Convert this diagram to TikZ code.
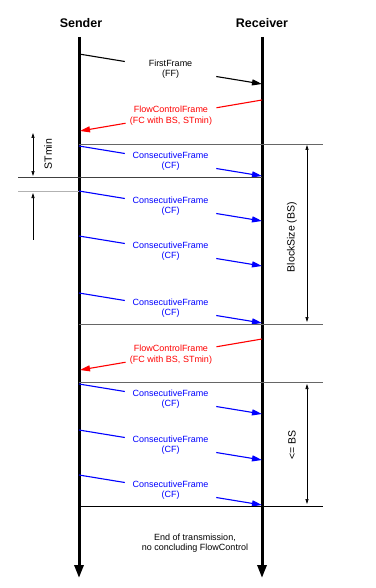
\documentclass[tikz,border=0pt]{standalone}
\usepackage{fontspec}
\setmainfont{Liberation Sans}
\usetikzlibrary{arrows.meta,calc}

\tikzset{
	lifeline/.style={line width=3pt, -{Triangle[length=13pt,width=9pt]}},
	msg/.style={line width=1.1pt},
	msgtip/.style={msg, -{Triangle[length=10pt,width=6pt]}},
	frame/.style={font=\fontsize{9}{10.5}\selectfont, align=center, inner sep=1pt},
	party/.style={font=\bfseries\fontsize{12.5}{14}\selectfont},
	sep/.style={line width=0.7pt, black!60},
	dim/.style={line width=0.6pt, {Triangle[length=5pt,width=3pt]}-{Triangle[length=5pt,width=3pt]}},
	dimlabel/.style={font=\fontsize{10.5}{12}\selectfont, rotate=90},
}

\begin{document}
\begin{tikzpicture}[x=1pt, y=-1pt]
	\useasboundingbox (0,0) rectangle (375,588);

	% sender and receiver
	\node[party] (sender) at (81,23) {Sender};
	\node[party] (receiver) at (262,23) {Receiver};
	\coordinate (s-top) at (79,37);
	\coordinate (s-bot) at (79,578);
	\coordinate (r-top) at (262,37);
	\coordinate (r-bot) at (262,578);
	\draw[lifeline] (s-top) -- (s-bot);
	\draw[lifeline] (r-top) -- (r-bot);

	% first frame
	\coordinate (ff-s) at (79,54);
	\coordinate (ff-r) at (262,84);
	\node[frame] (ff) at ($(ff-s)!0.5!(ff-r)$) {FirstFrame\\(FF)};
	\draw[msg] (ff-s) -- ($(ff-s)!0.25!(ff-r)$);
	\draw[msgtip] ($(ff-s)!0.75!(ff-r)$) -- (ff-r);

	% flow control frames
	\foreach \n/\y in {fca/100, fcb/339} {
		\coordinate (\n-r) at (262,\y);
		\coordinate (\n-s) at (80,\y+31);
		\node[frame, red] (\n) at ($(\n-r)!0.5!(\n-s)$) {FlowControlFrame\\(FC with BS, STmin)};
		\draw[msg, red] (\n-r) -- ($(\n-r)!0.25!(\n-s)$);
		\draw[msgtip, red] ($(\n-r)!0.75!(\n-s)$) -- (\n-s);
	}

	% consecutive frames
	\foreach \n/\y in {cfa/146, cfb/191, cfc/236, cfd/293, cfe/384, cff/430, cfg/475} {
		\coordinate (\n-s) at (79,\y);
		\coordinate (\n-r) at (262,\y+30);
		\node[frame, blue] (\n) at ($(\n-s)!0.5!(\n-r)$) {ConsecutiveFrame\\(CF)};
		\draw[msg, blue] (\n-s) -- ($(\n-s)!0.25!(\n-r)$);
		\draw[msgtip, blue] ($(\n-s)!0.75!(\n-r)$) -- (\n-r);
	}

	% block borders
	\draw[sep] (79,144) -- (323,144);
	\draw[sep, black!75] (18,177) -- (262,177);
	\draw[sep, black!30] (18,191) -- (79,191);
	\draw[sep] (79,324) -- (323,324);
	\draw[sep] (79,382) -- (323,382);
	\draw[sep, black] (79,506) -- (323,506);

	% STmin
	\draw[dim] (33,133) -- (33,176);
	\node[dimlabel] (stmin) at (48,154) {STmin};
	\draw[dim, {Triangle[length=5pt,width=3pt]}-] (33,193) -- (33,240);

	% block sizes
	\draw[dim] (307,145) -- (307,322);
	\node[dimlabel] (bs) at (292,237) {BlockSize (BS)};
	\draw[dim] (307,384) -- (307,504);
	\node[dimlabel] (lebs) at (292,445) {<= BS};

	\node[frame] (eot) at (195,543) {End of transmission,\\no concluding FlowControl};
\end{tikzpicture}
\end{document}
